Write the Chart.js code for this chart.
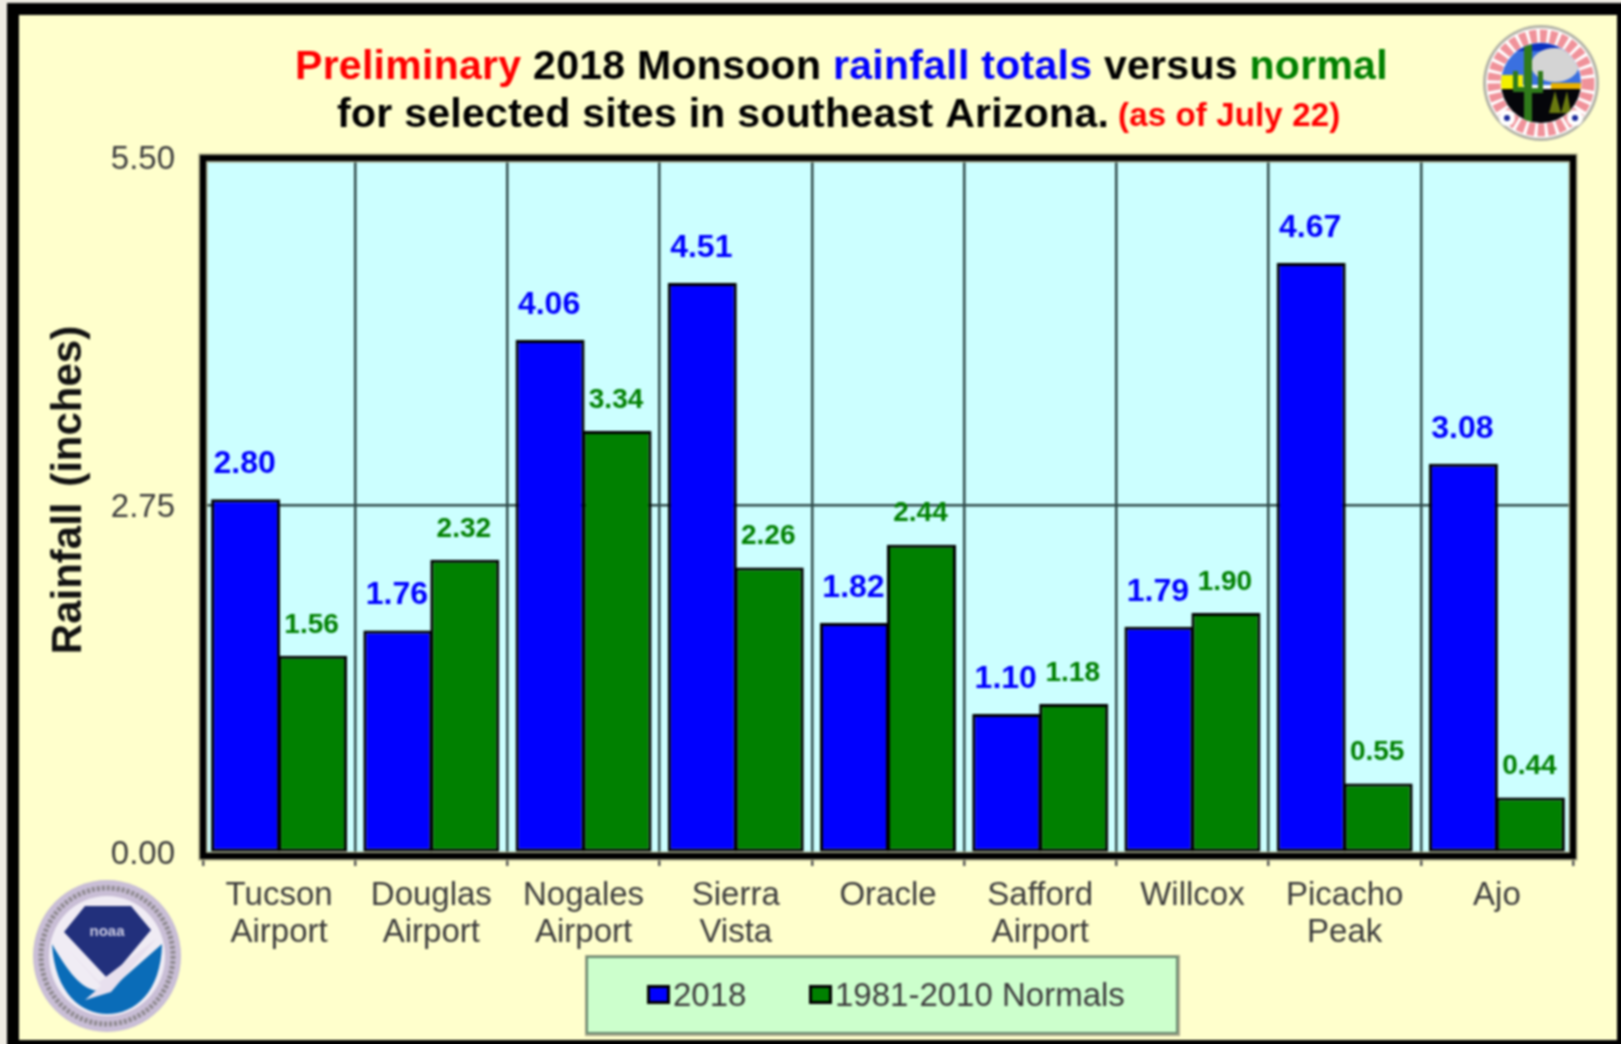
<!DOCTYPE html>
<html>
<head>
<meta charset="utf-8">
<title>2018 Monsoon rainfall</title>
<script src="https://cdn.jsdelivr.net/npm/chart.js@4"></script>
<style>
  html, body { margin: 0; padding: 0; background: #eeebe3; overflow: hidden; }
  #page { position: relative; width: 1621px; height: 1044px; filter: blur(0.8px); }
  #frame { position: absolute; left: 7px; top: 3px; width: 1598px; height: 1025px; border: 12px solid #000; background: #ffffcc; }
  #chart { position: absolute; left: 0; top: 0; }
  svg { position: absolute; }
</style>
</head>
<body>
<div id="page">
  <div id="frame"></div>
  <canvas id="chart" width="1621" height="1044"></canvas>

  <!-- NWS Tucson seal -->
  <svg style="left:1481px;top:23px" width="120" height="120" viewBox="-60 -60 120 120">
    <circle r="58" fill="#b4b4a8"/>
    <circle r="55" fill="#fff"/>
    <circle r="47" fill="none" stroke="#f0929a" stroke-width="13" stroke-dasharray="7 3"/>
    <circle cx="-34" cy="35" r="8" fill="#fff"/><circle cx="-34" cy="35" r="3" fill="#1a2a9a"/>
    <circle cx="34" cy="35" r="8" fill="#fff"/><circle cx="34" cy="35" r="3" fill="#1a2a9a"/>
    <clipPath id="inner"><circle r="40"/></clipPath>
    <g clip-path="url(#inner)">
      <rect x="-40" y="-40" width="80" height="42" fill="#3a70e0"/>
      <rect x="-40" y="-40" width="80" height="8" fill="#0a30c0"/>
      <ellipse cx="14" cy="-18" rx="24" ry="17" fill="#d4d4d4"/>
      <rect x="-40" y="-8" width="22" height="14" fill="#f4f000"/>
      <rect x="10" y="0" width="30" height="6" fill="#e8b000"/>
      <rect x="-40" y="6" width="80" height="36" fill="#05060a"/>
      <path d="M8 30 L14 8 L20 30 L26 8 L30 30Z" fill="#6a7a10"/>
      <path d="M-17 40 V-40 H-9 V40Z" fill="#2f7a1a"/>
      <path d="M-28 -12 H-23 V4 H-12 V9 H-28Z M-3 -12 H2 V10 H-12 V5 H-3Z" fill="#2f7a1a"/>
    </g>
  </svg>

  <!-- NOAA seal -->
  <svg style="left:31px;top:878px" width="152" height="156" viewBox="-76 -78 152 156">
    <ellipse rx="74" ry="76" fill="#c9bed6"/>
    <ellipse rx="66" ry="68" fill="none" stroke="#8f8a90" stroke-width="5" stroke-dasharray="3 2"/>
    <ellipse rx="58" ry="60" fill="#f0ecf4"/>
    <path d="M-55 -12 C-52 38 -25 58 0 58 C28 58 54 36 55 -12 L5 32 C-15 40 -30 32 -55 -12Z" fill="#0a6cb8"/>
    <path d="M-43 -24 L-22 -50 H24 L44 -26 L2 24Z" fill="#22307c"/>
    <path d="M-40 -8 L-8 26 L50 -18 L4 36 L-22 44 L-6 30Z" fill="#e8e0ee"/>
    <text x="0" y="-20" text-anchor="middle" font-family="Liberation Sans" font-weight="bold" font-size="15" fill="#c8c8e0">noaa</text>
  </svg>
</div>

<script>
const categories = [
  ['Tucson', 'Airport'], ['Douglas', 'Airport'], ['Nogales', 'Airport'],
  ['Sierra', 'Vista'], 'Oracle', ['Safford', 'Airport'], 'Willcox',
  ['Picacho', 'Peak'], 'Ajo'
];
const rain2018 = [2.80, 1.76, 4.06, 4.51, 1.82, 1.10, 1.79, 4.67, 3.08];
const normals = [1.56, 2.32, 3.34, 2.26, 2.44, 1.18, 1.90, 0.55, 0.44];
const yTicks = [0, 2.75, 5.5];

const titleLine1 = [
  ['Preliminary', '#ff0000'], [' 2018 Monsoon ', '#000000'],
  ['rainfall totals', '#0000ff'], [' versus ', '#000000'], ['normal', '#008000']
];
const titleLine2 = 'for selected sites in southeast Arizona.';
const titleNote = '(as of July 22)';
const yTitle = 'Rainfall (inches)';

const FONT = '"Liberation Sans", Arial, sans-serif';
const TEXT_GREY = '#3c3c3c';
const GRID = '#2f4a4a';

// plot background and the heavy frame round it
const plotFrame = {
  id: 'plotFrame',
  beforeDraw(chart) {
    const { ctx, chartArea: a } = chart;
    ctx.save();
    ctx.fillStyle = '#ccffff';
    ctx.fillRect(a.left, a.top, a.width, a.height);
    ctx.restore();
  },
  afterDatasetsDraw(chart) {
    const { ctx, chartArea: a } = chart;
    // the frame sits just below the zero line
    const h = a.height + 3;
    ctx.save();
    ctx.strokeStyle = '#a0a080';
    ctx.lineWidth = 9;
    ctx.strokeRect(a.left, a.top, a.width, h);
    ctx.strokeStyle = '#000';
    ctx.lineWidth = 6;
    ctx.strokeRect(a.left, a.top, a.width, h);
    ctx.restore();
  }
};

// value above each bar
const barLabels = {
  id: 'barLabels',
  afterDatasetsDraw(chart) {
    const { ctx } = chart;
    const styles = [
      { font: 'bold 32px ' + FONT, color: '#0000ff', up: 35 },
      { font: 'bold 28px ' + FONT, color: '#008000', up: 31 }
    ];
    ctx.save();
    ctx.textAlign = 'center';
    ctx.textBaseline = 'middle';
    chart.data.datasets.forEach((ds, i) => {
      ctx.font = styles[i].font;
      ctx.fillStyle = styles[i].color;
      chart.getDatasetMeta(i).data.forEach((bar, j) => {
        ctx.fillText(ds.data[j].toFixed(2), bar.x - 1, bar.y - styles[i].up);
      });
    });
    ctx.restore();
  }
};

// two line title with coloured words, y axis title and the legend box
const annotations = {
  id: 'annotations',
  afterDraw(chart) {
    const { ctx } = chart;
    ctx.save();
    ctx.textBaseline = 'alphabetic';
    ctx.textAlign = 'left';

    ctx.font = 'bold 41px ' + FONT;
    ctx.wordSpacing = '4px';
    ctx.letterSpacing = '0.28px';
    let x = 295;
    titleLine1.forEach(([text, color]) => {
      ctx.fillStyle = color;
      ctx.fillText(text, x, 79);
      x += ctx.measureText(text).width;
    });
    ctx.fillStyle = '#000';
    ctx.fillText(titleLine2, 337, 127);
    ctx.font = 'bold 33px ' + FONT;
    ctx.wordSpacing = '0px';
    ctx.letterSpacing = '0.15px';
    ctx.fillStyle = '#ff0000';
    ctx.fillText(titleNote, 1118, 126);
    ctx.letterSpacing = '0px';

    ctx.save();
    ctx.translate(81, 490);
    ctx.rotate(-Math.PI / 2);
    ctx.textAlign = 'center';
    ctx.font = 'bold 42px ' + FONT;
    ctx.fillStyle = '#111';
    ctx.wordSpacing = '4px';
    ctx.fillText(yTitle, 0, 0);
    ctx.restore();

    ctx.fillStyle = '#a8a88c';
    ctx.fillRect(585, 955, 595, 81);
    ctx.fillStyle = '#ccffcc';
    ctx.strokeStyle = '#6a8a70';
    ctx.lineWidth = 2;
    ctx.fillRect(587, 957, 590, 76);
    ctx.strokeRect(587, 957, 590, 76);

    const legendX = [[647, 673], [809, 835]];
    ctx.font = '33px ' + FONT;
    ctx.textBaseline = 'middle';
    chart.data.datasets.forEach((ds, i) => {
      ctx.fillStyle = '#000';
      ctx.fillRect(legendX[i][0], 985, 23, 19);
      ctx.fillStyle = ds.backgroundColor;
      ctx.fillRect(legendX[i][0] + 3, 988, 17, 13);
      ctx.fillStyle = TEXT_GREY;
      ctx.fillText(ds.label, legendX[i][1], 997);
    });
    ctx.restore();
  }
};

new Chart(document.getElementById('chart'), {
  type: 'bar',
  data: {
    labels: categories,
    datasets: [
      { label: '2018', data: rain2018, backgroundColor: '#0000ff', borderColor: '#000', borderWidth: 3, borderSkipped: false },
      { label: '1981-2010 Normals', data: normals, backgroundColor: '#008000', borderColor: '#000', borderWidth: 3, borderSkipped: false }
    ]
  },
  options: {
    responsive: false,
    animation: false,
    layout: { padding: { top: 158, right: 48 } },
    plugins: { legend: { display: false }, title: { display: false }, tooltip: { enabled: false } },
    datasets: { bar: { categoryPercentage: 0.88, barPercentage: 1.03 } },
    scales: {
      x: {
        afterFit: s => { s.height = 191; },
        border: { display: false },
        grid: { color: GRID, lineWidth: 2.5, tickColor: '#555', tickLength: 13 },
        ticks: {
          color: TEXT_GREY, padding: 11, maxRotation: 0, autoSkip: false,
          font: { family: FONT, size: 33, lineHeight: 1.12 }
        }
      },
      y: {
        min: 0,
        max: 5.5,
        afterFit: s => { s.width = 203; },
        afterBuildTicks: s => { s.ticks = yTicks.map(v => ({ value: v })); },
        border: { display: false },
        grid: { color: GRID, lineWidth: 2.5, drawTicks: false },
        ticks: {
          color: TEXT_GREY, padding: 28, labelOffset: 2,
          font: { family: FONT, size: 33 },
          callback: v => v.toFixed(2)
        }
      }
    }
  },
  plugins: [plotFrame, barLabels, annotations]
});
</script>
</body>
</html>
